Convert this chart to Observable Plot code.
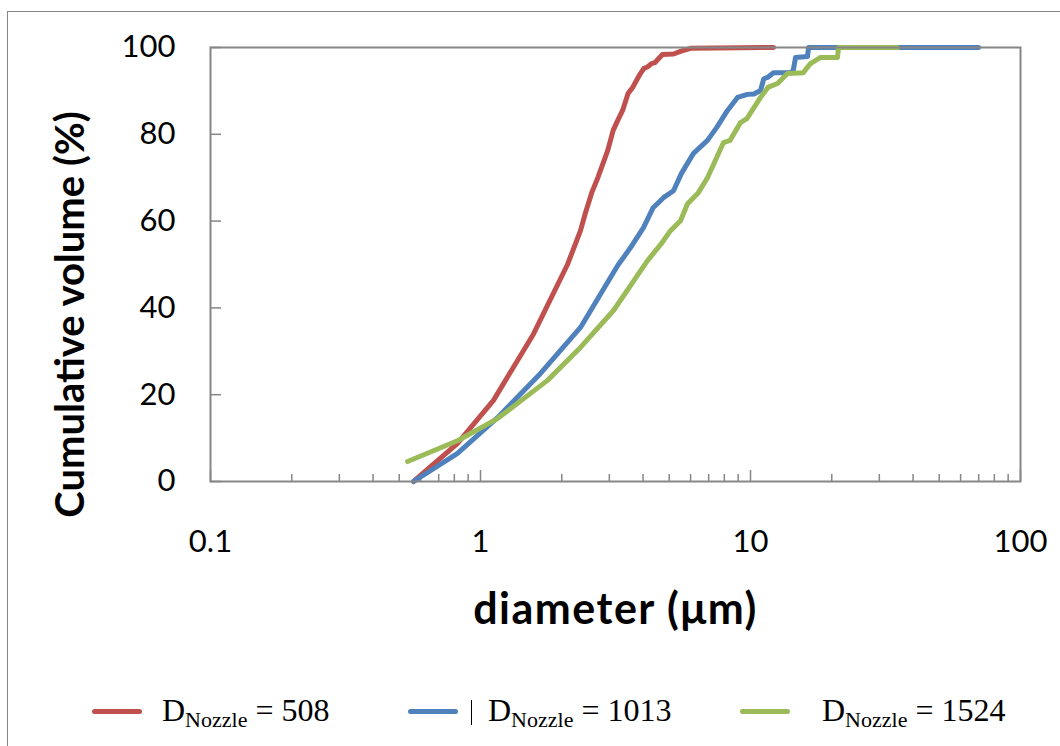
<!DOCTYPE html>
<html><head><meta charset="utf-8">
<script src="https://cdn.jsdelivr.net/npm/d3@7"></script>
<script src="https://cdn.jsdelivr.net/npm/@observablehq/plot@0.6"></script>
<style>
body{margin:0;background:#fff;}
#wrap{position:relative;width:1060px;height:746px;overflow:hidden;background:#fff;}
#border{position:absolute;left:7px;top:11px;width:1100px;height:800px;border:1.5px solid #868686;box-sizing:border-box;}
#chart{position:absolute;left:0;top:0;}
.sw{position:absolute;width:50px;height:5px;border-radius:3px;top:709px;}
.lt{position:absolute;top:690px;font-family:"Liberation Serif","Times New Roman",serif;font-size:32px;line-height:40px;white-space:nowrap;color:#000;}
.lt sub{font-size:22px;vertical-align:-6px;line-height:0;}
.bar{position:absolute;left:471px;top:700px;width:1px;height:25px;background:#000;}
g.ttlx text{letter-spacing:1.5px;}
</style></head>
<body>
<div id="wrap">
  <div id="border"></div>
  <div id="chart"></div>
  <div class="sw" style="left:92px;background:#C0504D"></div>
  <div class="lt" style="left:162px">D<sub>Nozzle</sub> = 508</div>
  <div class="sw" style="left:408px;background:#4F81BD"></div>
  <div class="bar"></div>
  <div class="lt" style="left:488px">D<sub>Nozzle</sub> = 1013</div>
  <div class="sw" style="left:740px;background:#9BBB59"></div>
  <div class="lt" style="left:822px">D<sub>Nozzle</sub> = 1524</div>
</div>
<script>
const seriesNames = ["D_Nozzle = 508", "D_Nozzle = 1013", "D_Nozzle = 1524"];
const seriesColors = ["#C0504D", "#4F81BD", "#9BBB59"];

const redD = [0.565, 0.822, 1.117, 1.572, 2.10, 2.346, 2.45, 2.58, 2.72, 2.87, 2.96, 3.10, 3.24, 3.36, 3.52, 3.66, 3.79, 3.91, 4.03, 4.15, 4.30, 4.42, 4.72, 5.19, 5.50, 6.0, 12.17];
const redV = [0, 8.8, 18.7, 34, 50, 57.8, 62, 66.5, 70, 74, 76.3, 80.9, 83.5, 85.5, 89.4, 90.8, 92.5, 94, 95.2, 95.5, 96.3, 96.5, 98.4, 98.5, 99.1, 99.8, 100];

const blueD = [0.565, 0.822, 1.156, 1.668, 2.346, 3.03, 3.24, 3.385, 3.65, 4.015, 4.35, 4.762, 5.186, 5.55, 6.149, 6.929, 7.5, 8.219, 8.953, 9.748, 10.3, 10.89, 11.2, 11.56, 12.17, 14.07, 14.4, 14.68, 16.26, 16.40, 69.9];
const blueV = [0, 6.5, 14.7, 24.9, 35.5, 47, 50, 51.6, 54.5, 58.5, 63, 65.4, 67, 71, 75.6, 78.6, 81.6, 85.5, 88.5, 89.2, 89.3, 90.1, 92.8, 93.1, 94.2, 94.2, 94.7, 97.7, 97.9, 100, 100];

const greenD = [0.537, 0.822, 1.156, 1.771, 2.346, 3.109, 4.155, 4.7, 5.055, 5.505, 5.846, 6.4, 6.929, 7.943, 8.4, 9.183, 9.7, 10.89, 11.6, 12.59, 13.71, 15.72, 16.0, 16.68, 18.17, 21.0, 21.18, 35.04];
const greenV = [4.6, 9.4, 14.5, 23.3, 30.9, 39.4, 50.9, 55, 57.8, 60.1, 64, 66.5, 70, 78.1, 78.6, 82.7, 83.6, 88.5, 90.8, 91.7, 94, 94.2, 94.9, 96.3, 97.7, 97.7, 100, 100];

const yTicks = [0, 20, 40, 60, 80, 100];
const xMajor = [0.1, 1, 10, 100];
const xMajorLabels = ["0.1", "1", "10", "100"];
const xMinor = [0.2,0.3,0.4,0.5,0.6,0.7,0.8,0.9,2,3,4,5,6,7,8,9,20,30,40,50,60,70,80,90];

const xTitle = "diameter (μm)";
const yTitle = "Cumulative volume (%)";

const rows = [];
[[redD, redV], [blueD, blueV], [greenD, greenV]].forEach(([ds, vs], i) => {
  ds.forEach((d, j) => rows.push({series: seriesNames[i], d, v: vs[j]}));
});

const fam = "Lato, 'Open Sans', sans-serif";
const tickFont = {fontFamily: fam, fontSize: 31};

const chart = Plot.plot({
  width: 1060, height: 665,
  marginLeft: 210, marginRight: 40, marginTop: 47, marginBottom: 184,
  x: {type: "log", domain: [0.1, 100]},
  y: {domain: [0, 100]},
  color: {domain: seriesNames, range: seriesColors},
  style: {background: "transparent", color: "#000", overflow: "visible"},
  marks: [
    Plot.axisY({ticks: yTicks, tickSize: 0, tickPadding: 35, label: null, ...tickFont}),
    Plot.axisY({ticks: yTicks, tickSize: -11, tickFormat: () => "", label: null, stroke: "#868686", strokeWidth: 1.5}),
    Plot.axisX({ticks: xMajor, tickSize: 0, tickPadding: 48, label: null, tickFormat: d => xMajorLabels[xMajor.indexOf(d)], ...tickFont}),
    Plot.axisX({ticks: xMinor, tickSize: -7, tickFormat: () => "", label: null, stroke: "#868686", strokeWidth: 1.5}),
    Plot.axisX({ticks: xMajor, tickSize: -11, tickFormat: () => "", label: null, stroke: "#868686", strokeWidth: 1.5}),
    Plot.line(rows, {x: "d", y: "v", z: "series", stroke: "series", strokeWidth: 5, strokeLinecap: "round", strokeLinejoin: "round"}),
    Plot.frame({stroke: "#868686", strokeWidth: 2}),
    Plot.text([yTitle], {text: d => d, frameAnchor: "left", textAnchor: "middle", lineAnchor: "middle", rotate: -90, dx: -139, dy: 50, fontSize: 40, fontWeight: "bold", fontFamily: fam, fill: "#000"}),
    Plot.text([xTitle], {text: d => d, frameAnchor: "bottom", textAnchor: "middle", dy: 142, fontSize: 43, fontWeight: "bold", fontFamily: fam, fill: "#000", className: "ttlx"})
  ]
});
document.getElementById("chart").appendChild(chart);
</script>
</body></html>
